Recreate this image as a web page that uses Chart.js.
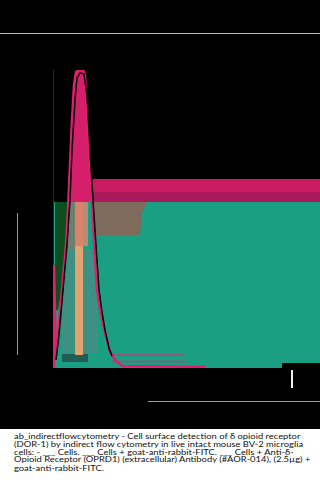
<!DOCTYPE html>
<html>
<head>
<meta charset="utf-8">
<script src="https://cdn.jsdelivr.net/npm/chart.js@4.4.1/dist/chart.umd.min.js"></script>
<style>
  html, body { margin: 0; padding: 0; background: #000; overflow: hidden; }
  #wrap { position: relative; width: 320px; height: 493px; background: #000; }
  #chartBox { position: absolute; left: 0; top: 0; width: 320px; height: 429px; }
  .deco { position: absolute; }
  #capBg { position: absolute; left: 0; top: 429px; width: 320px; height: 64px; background: #fff; }
  #capText { position: absolute; left: 14px; top: 433px; font-family: Lato, "Open Sans", sans-serif; font-size: 9.4px; line-height: 10.4px; color: #111; white-space: nowrap; transform: scaleY(0.75); transform-origin: 0 0; }
</style>
</head>
<body>
<div id="wrap">
  <div id="chartBox"><canvas id="c"></canvas></div>
  <div class="deco" style="left:0;top:33px;width:320px;height:1px;background:#b4b4b4"></div>
  <div class="deco" style="left:17px;top:213px;width:1px;height:142px;background:#9a9a9a"></div>
  <div class="deco" style="left:291px;top:370px;width:2px;height:18px;background:#f0f0f0"></div>
  <div class="deco" style="left:148px;top:401px;width:172px;height:1px;background:#9a9a9a"></div>
  <div id="capBg"></div>
  <div id="capText">ab_indirectflowcytometry - Cell surface detection of δ opioid receptor<br>(DOR-1) by indirect flow cytometry in live intact mouse BV-2 microglia<br>cells: - ___ Cells. ___ Cells + goat-anti-rabbit-FITC. ___ Cells + Anti-δ-<br>Opioid Receptor (OPRD1) (extracellular) Antibody (#AOR-014), (2.5µg) +<br>goat-anti-rabbit-FITC.</div>
</div>
<script>
// ---- Data (x = fluorescence channel 0-1000, y = % of max count) ----
// Cells + goat-anti-rabbit-FITC (pink histogram)
const secondaryX = [0, 3.7, 11.2, 18.7, 33.7, 48.7, 56.2, 63.7, 71.2, 78.7, 86.1, 97.4, 112.4, 119.8, 127.3, 134.8, 146, 153.5, 164.8, 176, 187.3, 202.2, 213.5, 232.2, 258.4, 569];
const secondaryY = [0, 34.6, 3.4, 11.1, 26.2, 41.3, 53, 68.1, 83.2, 95, 99.3, 100, 100, 98.3, 86.6, 73.2, 56.4, 43, 26.2, 19.5, 14.4, 9.4, 5.4, 2.7, 0.7, 0.3];
// Cells (black histogram)
const cellsX = [11.2, 22.5, 37.5, 52.4, 63.7, 71.2, 82.4, 89.9, 101, 116, 127.3, 138.6, 149.8, 161, 172.3, 183.5, 194.7, 209.7, 221];
const cellsY = [2.7, 11.1, 26.2, 41.3, 56.4, 73.2, 89.9, 97.3, 99, 98.7, 91.6, 73.2, 56.4, 41.3, 26.2, 18.8, 12.8, 6.7, 4];
// Cells + Anti-δ-Opioid Receptor antibody (teal area)
const antibodyX = [3.7, 1000];
const antibodyY = [55.7, 55.7];
const antibodyNotchX = [857.6, 1000];
const antibodyNotchY = [1.7, 1.7];
// Overlapping histogram layers seen in the picture
const bandTopX = [138.6, 1000], bandTopY = [63.4, 63.4], bandTopBase = 59.1;
const bandLowX = [138.6, 1000], bandLowY = [59.1, 59.1], bandLowBase = 55.7;
const brownX = [149.8, 325.8, 333, 352], brownY = [44.6, 44.6, 52, 55.7], brownBase = 55.7;
const darkGreenX = [7.5, 18.7, 33.7, 48.7, 52.4], darkGreenY = [19.5, 19.5, 26.2, 39.6, 55.7], darkGreenBase = 55.7;
const grayTealX = [33.7, 168.5], grayTealY = [39.6, 39.6], grayTealBase = 4.7;
const grayColX = [52.4, 82.4], grayColY = [55.7, 55.7], grayColBase = 39.6;
const salmonX = [82.4, 112.4], salmonY = [55.7, 55.7], salmonBase = 40.9;
const salmonLightX = [112.4, 131], salmonLightY = [55.7, 55.7], salmonLightBase = 40.9;
const peachX = [82.4, 112.4], peachY = [40.9, 40.9], peachBase = 4.4;
const darkTealX = [33.7, 131], darkTealY = [4.7, 4.7], darkTealBase = 2.0;
const tailLine1X = [221, 487], tailLine1Y = [4.4, 4.4];
const tailLine2X = [221, 506], tailLine2Y = [2.2, 2.2];
const axisX = [0, 0], axisY = [0, 100];

const pts = (xs, ys) => xs.map((x, i) => ({ x, y: ys[i] }));
function area(xs, ys, base, color, order) {
  return {
    data: pts(xs, ys),
    fill: base === null ? 'origin' : { value: base },
    backgroundColor: color,
    borderWidth: 0,
    pointRadius: 0,
    order
  };
}
function line(xs, ys, color, width, order) {
  return { data: pts(xs, ys), fill: false, borderColor: color, borderWidth: width, pointRadius: 0, order };
}

const datasets = [
  line(axisX, axisY, '#6a4654', 1, 30),
  area(antibodyX, antibodyY, null, '#1b9f83', 20),
  area(antibodyNotchX, antibodyNotchY, null, '#000000', 19),
  area(grayTealX, grayTealY, grayTealBase, '#3d9182', 18),
  area(darkTealX, darkTealY, darkTealBase, '#1f5d55', 17),
  area(grayColX, grayColY, grayColBase, '#6b7f6d', 16),
  area(darkGreenX, darkGreenY, darkGreenBase, '#0b4f1e', 15),
  area(brownX, brownY, brownBase, '#7e6b5c', 15),
  area(salmonX, salmonY, salmonBase, '#d8836a', 14),
  area(salmonLightX, salmonLightY, salmonLightBase, '#b98a7a', 14),
  area(peachX, peachY, peachBase, '#e2a46e', 14),
  area(bandTopX, bandTopY, bandTopBase, '#c91a62', 12),
  area(bandLowX, bandLowY, bandLowBase, '#a9195b', 12),
  line(tailLine1X, tailLine1Y, '#b8407c', 1.5, 11),
  line(tailLine2X, tailLine2Y, '#c43c7a', 1.5, 11),
  {
    label: 'Cells + goat-anti-rabbit-FITC',
    data: pts(secondaryX, secondaryY),
    borderColor: '#e01f6e',
    borderWidth: 2.5,
    pointRadius: 0,
    fill: { target: { value: 55.7 }, above: '#d61f6b', below: 'rgba(0,0,0,0)' },
    order: 3
  },
  {
    label: 'Cells',
    data: pts(cellsX, cellsY),
    borderColor: '#000000',
    borderWidth: 1.5,
    pointRadius: 0,
    fill: false,
    order: 2
  }
];

new Chart(document.getElementById('c'), {
  type: 'line',
  data: { datasets },
  options: {
    responsive: true,
    maintainAspectRatio: false,
    devicePixelRatio: 1,
    animation: false,
    layout: { padding: { left: 53, top: 70, right: 0, bottom: 61 } },
    plugins: { legend: { display: false }, tooltip: { enabled: false } },
    scales: {
      x: { type: 'linear', min: 0, max: 1000, display: false },
      y: { type: 'linear', min: 0, max: 100, display: false }
    }
  }
});
</script>
</body>
</html>
